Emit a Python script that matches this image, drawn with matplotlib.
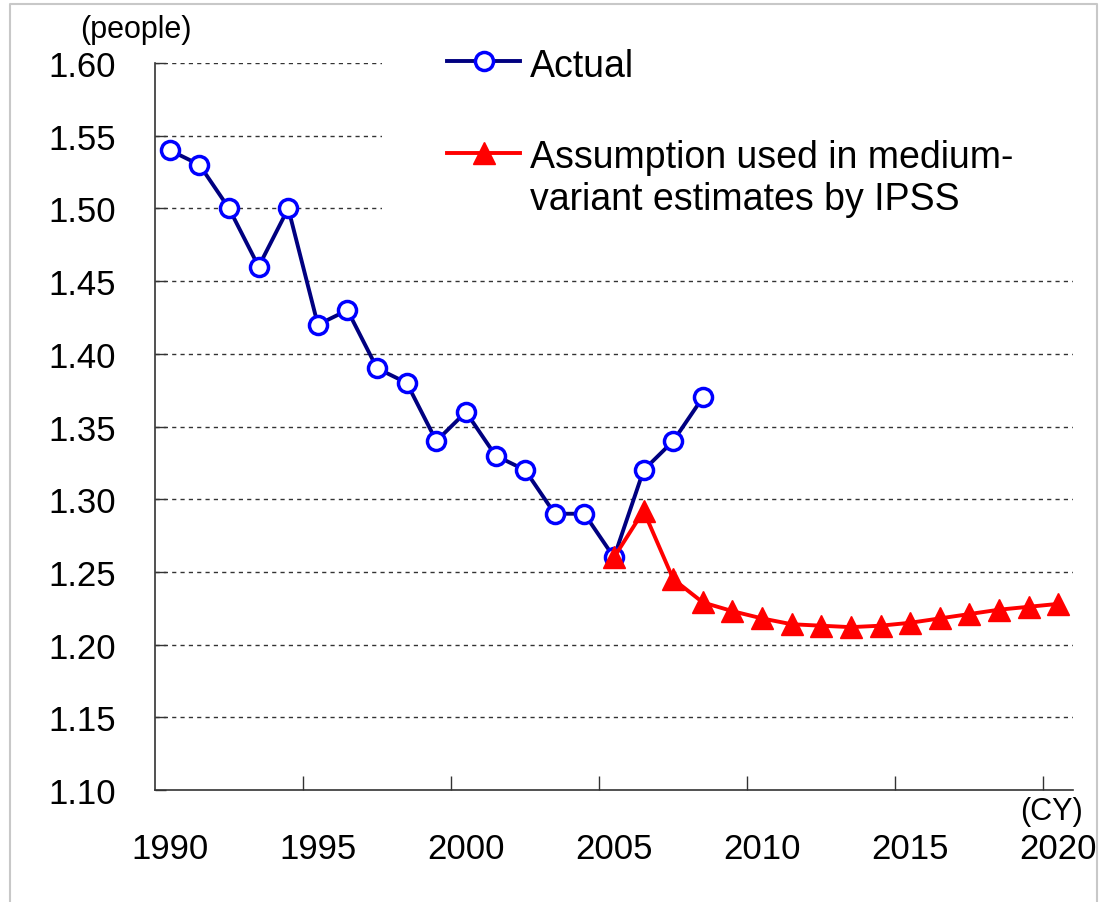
import numpy as np
import matplotlib
matplotlib.use("Agg")
import matplotlib.pyplot as plt
from matplotlib.lines import Line2D
from matplotlib.patches import Rectangle

plt.rcParams['font.family'] = ['Liberation Sans', 'DejaVu Sans']

# data
actual_years = np.arange(1990, 2009)
actual_vals = [1.54, 1.53, 1.50, 1.46, 1.50, 1.42, 1.43, 1.39, 1.38, 1.34,
               1.36, 1.33, 1.32, 1.29, 1.29, 1.26, 1.32, 1.34, 1.37]
ipss_years = np.arange(2005, 2021)
ipss_vals = [1.26, 1.292, 1.245, 1.229, 1.223, 1.218, 1.214, 1.213, 1.212,
             1.213, 1.215, 1.218, 1.221, 1.224, 1.226, 1.228]
xtick_labels = [1990, 1995, 2000, 2005, 2010, 2015, 2020]
ytick_vals = np.arange(1.10, 1.601, 0.05)

fig = plt.figure(figsize=(10.99, 9.03), dpi=100)
ax = fig.add_axes([155/1099, 1-791/903, (1073-155)/1099, (791-64)/903])

ax.plot(actual_years, actual_vals, color='#000080', lw=2.8, marker='o', ms=13,
        mfc='white', mec='#0000FF', mew=2.5, zorder=3)
ax.plot(ipss_years, ipss_vals, color='#FF0000', lw=2.8, marker='^', ms=16,
        mfc='#FF0000', mec='#FF0000', zorder=4)

ax.set_xlim(1989.5, 2020.5)
ax.set_ylim(1.10, 1.60)
ax.set_yticks(ytick_vals)
ax.set_yticklabels(['%.2f' % v for v in ytick_vals], fontsize=25)
for v in ytick_vals[1:]:
    ax.axhline(v, color='#333333', lw=1, ls=(0, (3, 3)), zorder=1)

# white area behind the legend hides the top gridlines
ax.add_patch(Rectangle(((382-155)/918, (791-235)/727), 1.05, 0.3,
                       transform=ax.transAxes, facecolor='white', edgecolor='none',
                       zorder=2, clip_on=False))

# labels at the years, tick marks at the category boundaries
ax.set_xticks(xtick_labels)
ax.set_xticklabels([str(y) for y in xtick_labels], fontsize=25)
ax.tick_params(axis='x', length=0, pad=30)
ax.set_xticks([y - 0.5 for y in xtick_labels[1:]], minor=True)
ax.tick_params(axis='x', which='minor', direction='in', length=10, width=1, color='#333333')
ax.tick_params(axis='y', direction='in', length=8, width=1, color='#333333', pad=28)

for s in ['top', 'right']:
    ax.spines[s].set_visible(False)
for s in ['left', 'bottom']:
    ax.spines[s].set_color('#333333')
    ax.spines[s].set_linewidth(1.2)

fig.text(192/1099, 1-30/903, '(people)', fontsize=22, ha='right', va='center')
fig.text(1083/1099, 1-812/903, '(CY)', fontsize=22, ha='right', va='center')

handles = [Line2D([], [], color='#000080', lw=2.8, marker='o', ms=13, mfc='white',
                  mec='#0000FF', mew=2.5),
           Line2D([], [], color='#FF0000', lw=2.8, marker='^', ms=16,
                  mfc='#FF0000', mec='#FF0000')]
leg = ax.legend(handles, ['Actual', 'Assumption used in medium-\nvariant estimates by IPSS'],
                loc='upper left', bbox_to_anchor=((417-155)/918, 1.062), fontsize=27,
                frameon=False, handlelength=1.95, handletextpad=0.25, labelspacing=1.48,
                borderpad=0.3)
leg.set_zorder(5)
# put the handle beside the first line of a two-line label
for col in leg._legend_handle_box.get_children():
    for item in col.get_children():
        item.align = 'top'

# light grey border round the picture
fig.add_artist(Line2D([10/1099, 10/1099, 1097/1099, 1097/1099],
                      [0, 1-5/903, 1-5/903, 0], color='#c8c8c8', lw=1.5))

fig.savefig('out.png', dpi=100)
